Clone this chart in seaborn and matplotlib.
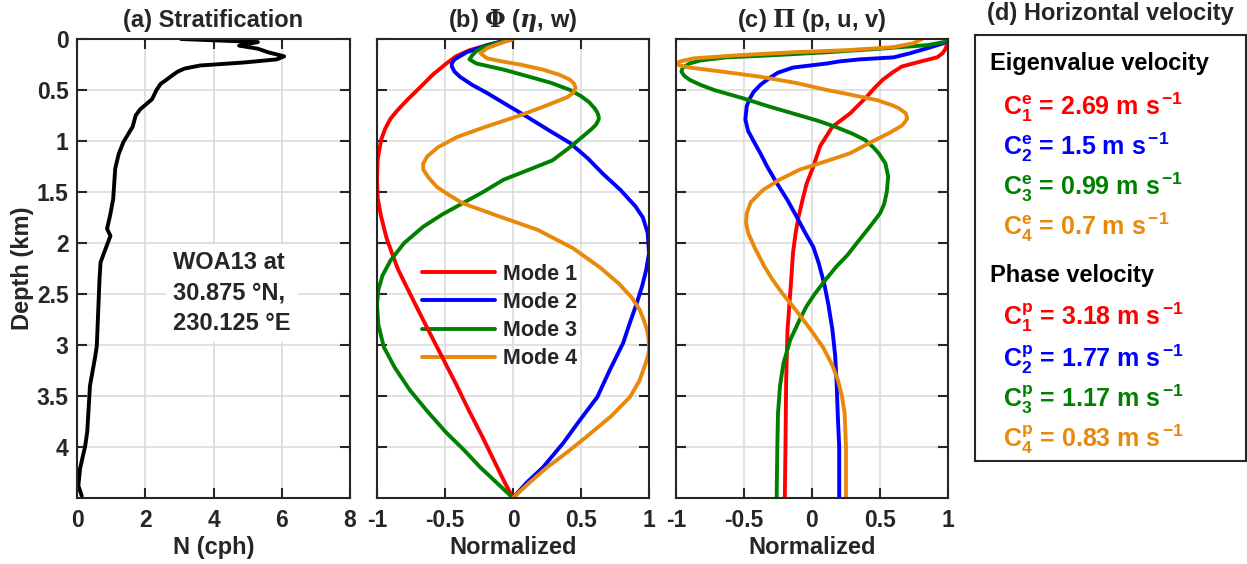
import matplotlib
matplotlib.use("Agg")
import matplotlib.pyplot as plt
import seaborn as sns

# ---------------- data ----------------
# (a) stratification profile
N_depth = [0.0, 0.03, 0.065, 0.095, 0.13, 0.17, 0.2, 0.23, 0.26, 0.29, 0.32, 0.36, 0.40,
           0.44, 0.50, 0.59, 0.69, 0.75, 0.86, 1.01, 1.13, 1.27, 1.57, 1.73, 1.86, 1.93,
           2.09, 2.19, 2.35, 3.01, 3.12, 3.40, 3.85, 3.99, 4.21, 4.38, 4.48]
N_cph = [3.05, 5.3, 4.75, 5.3, 5.6, 6.07, 5.85, 4.9, 3.6, 3.15, 2.95, 2.78, 2.62,
         2.45, 2.33, 2.2, 1.85, 1.72, 1.63, 1.36, 1.22, 1.12, 1.06, 0.97, 0.88, 0.98,
         0.8, 0.69, 0.66, 0.58, 0.53, 0.38, 0.3, 0.24, 0.09, 0.04, 0.14]

# (b) Phi modes
phi1_d = [0, 0.05, 0.11, 0.17, 0.24, 0.35, 0.47, 0.6, 0.7, 0.78, 0.88, 0.99, 1.18, 1.38, 1.56, 1.74,
          1.95, 2.1, 2.26, 2.49, 2.69, 2.9, 3.12, 3.38, 3.64, 3.9, 4.16, 4.35, 4.5]
phi1_v = [0, -0.16, -0.32, -0.42, -0.49, -0.59, -0.68, -0.78, -0.85, -0.9, -0.94, -0.97, -0.995, -1.0, -0.995, -0.97,
          -0.93, -0.89, -0.845, -0.76, -0.685, -0.605, -0.52, -0.42, -0.325, -0.225, -0.13, -0.06, 0]

phi2_d = [0, 0.03, 0.06, 0.13, 0.2, 0.24, 0.27, 0.32, 0.37, 0.45, 0.53, 0.65, 0.76, 0.9, 1.02, 1.17, 1.32,
          1.48, 1.64, 1.75, 1.9, 2.1, 2.26, 2.42, 2.59, 2.78, 2.98, 3.25, 3.51, 3.74, 3.96, 4.2, 4.35, 4.5]
phi2_v = [0, -0.1, -0.19, -0.34, -0.43, -0.45, -0.45, -0.43, -0.39, -0.3, -0.19, -0.04, 0.1, 0.27, 0.42, 0.55, 0.66,
          0.79, 0.9, 0.955, 0.99, 1.0, 0.98, 0.95, 0.91, 0.86, 0.81, 0.71, 0.62, 0.49, 0.37, 0.22, 0.1, 0]

phi3_d = [0, 0.04, 0.08, 0.12, 0.16, 0.2, 0.24, 0.3, 0.37, 0.43, 0.5, 0.56, 0.62, 0.68, 0.72, 0.76, 0.79, 0.84, 0.88,
          0.96, 1.07, 1.19, 1.28, 1.38, 1.5, 1.61, 1.72, 1.84, 2.0, 2.17, 2.32, 2.46, 2.6, 2.8, 3.02, 3.22, 3.44,
          3.65, 3.86, 4.03, 4.2, 4.35, 4.5]
phi3_v = [0, -0.12, -0.22, -0.27, -0.3, -0.32, -0.27, -0.07, 0.12, 0.28, 0.42, 0.5, 0.56, 0.6, 0.62, 0.63, 0.63, 0.61, 0.58,
          0.51, 0.41, 0.29, 0.12, -0.07, -0.22, -0.37, -0.52, -0.66, -0.8, -0.9, -0.96,
          -0.99, -1.0, -0.99, -0.95, -0.87, -0.76, -0.63, -0.49, -0.36, -0.24, -0.12, 0]

phi4_d = [0, 0.05, 0.09, 0.14, 0.19, 0.22, 0.25, 0.3, 0.35, 0.4, 0.44, 0.48, 0.53, 0.57, 0.65, 0.75, 0.86, 0.96, 1.06,
          1.15, 1.22, 1.28, 1.36, 1.45, 1.53, 1.61, 1.74, 1.87, 2.05, 2.24, 2.4, 2.53, 2.65, 2.75, 2.85, 2.92, 3.0, 3.05,
          3.12, 3.2, 3.35, 3.51, 3.7, 3.9, 4.05, 4.2, 4.35, 4.5]
phi4_v = [0, -0.11, -0.19, -0.24, -0.19, -0.08, 0.05, 0.22, 0.34, 0.42, 0.45, 0.46, 0.44, 0.4, 0.25, 0.05, -0.2, -0.41, -0.55,
          -0.63, -0.66, -0.66, -0.62, -0.56, -0.47, -0.37, -0.1, 0.18, 0.44, 0.64, 0.78, 0.87, 0.93, 0.96, 0.985, 0.995, 1.0, 1.0,
          0.99, 0.97, 0.93, 0.86, 0.72, 0.54, 0.4, 0.25, 0.12, 0]

# (c) Pi modes
pi1_d = [0, 0.05, 0.1, 0.14, 0.18, 0.22, 0.27, 0.33, 0.4, 0.48, 0.57, 0.65, 0.73, 0.86, 1.05, 1.25, 1.42, 1.58, 1.75,
         1.9, 2.1, 2.4, 2.85, 3.34, 4.0, 4.5]
pi1_v = [1.0, 0.995, 0.98, 0.96, 0.92, 0.8, 0.66, 0.59, 0.52, 0.46, 0.4, 0.34, 0.28, 0.15, 0.06, 0.01, -0.04, -0.07, -0.1,
         -0.12, -0.14, -0.155, -0.18, -0.19, -0.195, -0.2]

pi2_d = [0, 0.04, 0.09, 0.14, 0.18, 0.2, 0.22, 0.24, 0.28, 0.33, 0.38, 0.45, 0.52, 0.59, 0.66, 0.79, 0.9, 1.0, 1.12, 1.25,
         1.41, 1.58, 1.75, 1.9, 2.04, 2.2, 2.4, 2.6, 2.85, 3.1, 3.34, 3.7, 4.0, 4.5]
pi2_v = [1.0, 0.97, 0.85, 0.72, 0.6, 0.35, 0.2, 0.11, -0.14, -0.25, -0.31, -0.38, -0.43, -0.46, -0.48, -0.49, -0.47, -0.43, -0.38, -0.33,
         -0.26, -0.18, -0.11, -0.05, 0.01, 0.05, 0.09, 0.12, 0.15, 0.17, 0.18, 0.19, 0.2, 0.2]

pi3_d = [0, 0.03, 0.06, 0.1, 0.13, 0.16, 0.18, 0.21, 0.24, 0.28, 0.32, 0.36, 0.4, 0.45, 0.5, 0.58, 0.66, 0.73, 0.8, 0.86,
         0.93, 0.99, 1.06, 1.12, 1.22, 1.35, 1.5, 1.62, 1.71, 1.85, 2.0, 2.12, 2.23, 2.36, 2.5, 2.62, 2.75, 2.95, 3.18,
         3.4, 3.67, 4.0, 4.5]
pi3_v = [1.0, 0.97, 0.85, 0.45, 0.11, -0.3, -0.63, -0.82, -0.9, -0.95, -0.96, -0.94, -0.9, -0.82, -0.72, -0.51, -0.32, -0.14, 0.04, 0.17,
         0.3, 0.39, 0.45, 0.49, 0.54, 0.56, 0.55, 0.53, 0.5, 0.42, 0.33, 0.26, 0.18, 0.1, 0.02, -0.04, -0.09, -0.16, -0.21,
         -0.235, -0.25, -0.255, -0.26]

pi4_d = [0, 0.04, 0.08, 0.11, 0.13, 0.16, 0.19, 0.22, 0.24, 0.26, 0.28, 0.32, 0.37, 0.43, 0.5, 0.55, 0.6, 0.65, 0.68, 0.73,
         0.78, 0.82, 0.85, 0.92, 1.0, 1.12, 1.2, 1.28, 1.38, 1.48, 1.6, 1.71, 1.8, 1.9, 2.05, 2.23, 2.36, 2.49, 2.69,
         2.85, 3.02, 3.2, 3.34, 3.5, 3.67, 4.0, 4.5]
pi4_v = [0.81, 0.75, 0.6, 0.25, -0.14, -0.55, -0.87, -0.97, -1.0, -0.97, -0.9, -0.66, -0.38, -0.12, 0.11, 0.3, 0.48, 0.59, 0.64, 0.69,
         0.7, 0.68, 0.66, 0.57, 0.45, 0.28, 0.1, -0.09, -0.24, -0.36, -0.45, -0.48, -0.485, -0.47, -0.42, -0.35, -0.29, -0.22, -0.1,
         -0.01, 0.08, 0.15, 0.19, 0.22, 0.24, 0.25, 0.25]

mode_labels = ["Mode 1", "Mode 2", "Mode 3", "Mode 4"]
mode_colors = ["#ff0000", "#0000ff", "#008000", "#e8890c"]

eig_values = ["2.69", "1.5", "0.99", "0.7"]
phase_values = ["3.18", "1.77", "1.17", "0.83"]

depth_ticks = [0, 0.5, 1, 1.5, 2, 2.5, 3, 3.5, 4]
norm_ticks = [-1, -0.5, 0, 0.5, 1]
N_ticks = [0, 2, 4, 6, 8]

# ---------------- style ----------------
sns.set_theme(style="ticks")
plt.rcParams["font.family"] = ["Liberation Sans", "DejaVu Sans"]
plt.rcParams.update({
    "font.weight": "bold",
    "axes.labelweight": "bold",
    "axes.titleweight": "bold",
    "axes.unicode_minus": False,
    "axes.edgecolor": "#262626",
    "axes.linewidth": 1.5,
    "xtick.color": "#262626",
    "ytick.color": "#262626",
    "xtick.labelcolor": "#262626",
    "ytick.labelcolor": "#262626",
    "mathtext.fontset": "custom",
    "mathtext.rm": "Liberation Sans:bold",
    "mathtext.bf": "Liberation Sans:bold",
    "mathtext.it": "Liberation Sans:bold:italic",
    "mathtext.default": "bf",
})

W, H = 1247, 564
fig = plt.figure(figsize=(W / 100, H / 100), dpi=100)


def px_axes(x0, x1, y0, y1):
    return fig.add_axes([x0 / W, 1 - y1 / H, (x1 - x0) / W, (y1 - y0) / H])


axA = px_axes(77, 350, 39, 498)
axB = px_axes(377, 649, 39, 498)
axC = px_axes(676, 948, 39, 498)
axD = px_axes(975, 1246, 35, 461)

LW = 2.8
GRID = "#dcdcdc"
FS_TICK = 16.5
FS_LAB = 17
FS_TITLE = 17


def style_axes(ax, xlim, xticks, ylabels=True):
    ax.set_xlim(*xlim)
    ax.set_ylim(4.5, 0)
    ax.set_xticks(xticks)
    ax.set_xticklabels([f"{t:g}" for t in xticks])
    ax.set_yticks(depth_ticks)
    if ylabels:
        ax.set_yticklabels([f"{t:g}" for t in depth_ticks])
    else:
        ax.set_yticklabels([])
    ax.grid(True, color=GRID, lw=1.2)
    ax.set_axisbelow(True)
    ax.tick_params(direction="in", length=7, width=1.5, top=True, right=True,
                   labelsize=FS_TICK)
    ax.tick_params(axis="x", pad=8)
    ax.tick_params(axis="y", pad=6)
    for s in ax.spines.values():
        s.set_visible(True)
        s.set_linewidth(1.5)
        s.set_color("#262626")
    for lab in ax.get_xticklabels() + ax.get_yticklabels():
        lab.set_fontweight("bold")


# (a)
sns.lineplot(x=N_cph, y=N_depth, orient="y", sort=False, estimator=None,
             color="black", lw=LW, ax=axA)
style_axes(axA, (0, 8), N_ticks)
axA.set_xlabel("N (cph)", fontsize=FS_LAB, labelpad=3)
axA.set_ylabel("Depth (km)", fontsize=FS_LAB, labelpad=2)
axA.set_title("(a) Stratification", fontsize=FS_TITLE, pad=9)
axA.text(2.82, 2.49, "WOA13 at\n30.875 \u00b0N,\n230.125 \u00b0E", fontsize=17,
         fontweight="bold", ha="left", va="center", linespacing=1.42,
         bbox=dict(boxstyle="square,pad=0.3", fc="white", ec="none"))

# (b)
phi_d = [phi1_d, phi2_d, phi3_d, phi4_d]
phi_v = [phi1_v, phi2_v, phi3_v, phi4_v]
for d, v, c, lab in zip(phi_d, phi_v, mode_colors, mode_labels):
    sns.lineplot(x=v, y=d, orient="y", sort=False, estimator=None,
                 color=c, lw=LW, ax=axB, label=lab)
style_axes(axB, (-1, 1), norm_ticks, ylabels=False)
axB.set_xlabel("Normalized", fontsize=FS_LAB, labelpad=3)
axB.set_ylabel("")
axB.set_title(r"(b) $\mathbf{\Phi}$ ($\mathbfit{\eta}$, w)", fontsize=FS_TITLE, pad=9,
              math_fontfamily="dejavuserif")
leg = axB.legend(loc="upper left", bbox_to_anchor=(0.165, 0.51), frameon=False,
                 fontsize=15.5, handlelength=3.4, handletextpad=0.35,
                 labelspacing=0.33, borderaxespad=0, borderpad=0)
leg.set_zorder(1)
for t in leg.get_texts():
    t.set_fontweight("bold")
for h in leg.get_lines():
    h.set_linewidth(LW)

# (c)
pi_d = [pi1_d, pi2_d, pi3_d, pi4_d]
pi_v = [pi1_v, pi2_v, pi3_v, pi4_v]
for d, v, c in zip(pi_d, pi_v, mode_colors):
    sns.lineplot(x=v, y=d, orient="y", sort=False, estimator=None,
                 color=c, lw=LW, ax=axC)
style_axes(axC, (-1, 1), norm_ticks, ylabels=False)
axC.set_xlabel("Normalized", fontsize=FS_LAB, labelpad=3)
axC.set_ylabel("")
axC.set_title(r"(c) $\mathbf{\Pi}$ (p, u, v)", fontsize=FS_TITLE, pad=9,
              math_fontfamily="dejavuserif")

# (d)
axD.set_xticks([])
axD.set_yticks([])
for s in axD.spines.values():
    s.set_visible(True)
    s.set_linewidth(1.5)
    s.set_color("#262626")
axD.set_title("(d) Horizontal velocity", fontsize=FS_TITLE, pad=11)


def dy(y):
    return 1 - (y - 35) / 426


def dx(x):
    return (x - 975) / 271


axD.text(dx(990), dy(70), "Eigenvalue velocity", transform=axD.transAxes,
         fontsize=17, fontweight="bold", va="baseline", ha="left", color="black")
axD.text(dx(990), dy(282), "Phase velocity", transform=axD.transAxes,
         fontsize=17, fontweight="bold", va="baseline", ha="left", color="black")
eig_base = [115, 155, 195, 235]
ph_base = [325, 367, 407, 447]
for i, (val, c, yb) in enumerate(zip(eig_values, mode_colors, eig_base)):
    axD.text(dx(1003), dy(yb),
             r"$\mathbf{C}^{\mathbf{e}}_{\mathbf{%d}}$ = %s m s$^{\,\mathbf{-1}}$" % (i + 1, val),
             transform=axD.transAxes, fontsize=18, fontweight="bold",
             va="baseline", ha="left", color=c)
for i, (val, c, yb) in enumerate(zip(phase_values, mode_colors, ph_base)):
    axD.text(dx(1003), dy(yb),
             r"$\mathbf{C}^{\mathbf{p}}_{\mathbf{%d}}$ = %s m s$^{\,\mathbf{-1}}$" % (i + 1, val),
             transform=axD.transAxes, fontsize=18, fontweight="bold",
             va="baseline", ha="left", color=c)

fig.savefig("out.png", dpi=100)
